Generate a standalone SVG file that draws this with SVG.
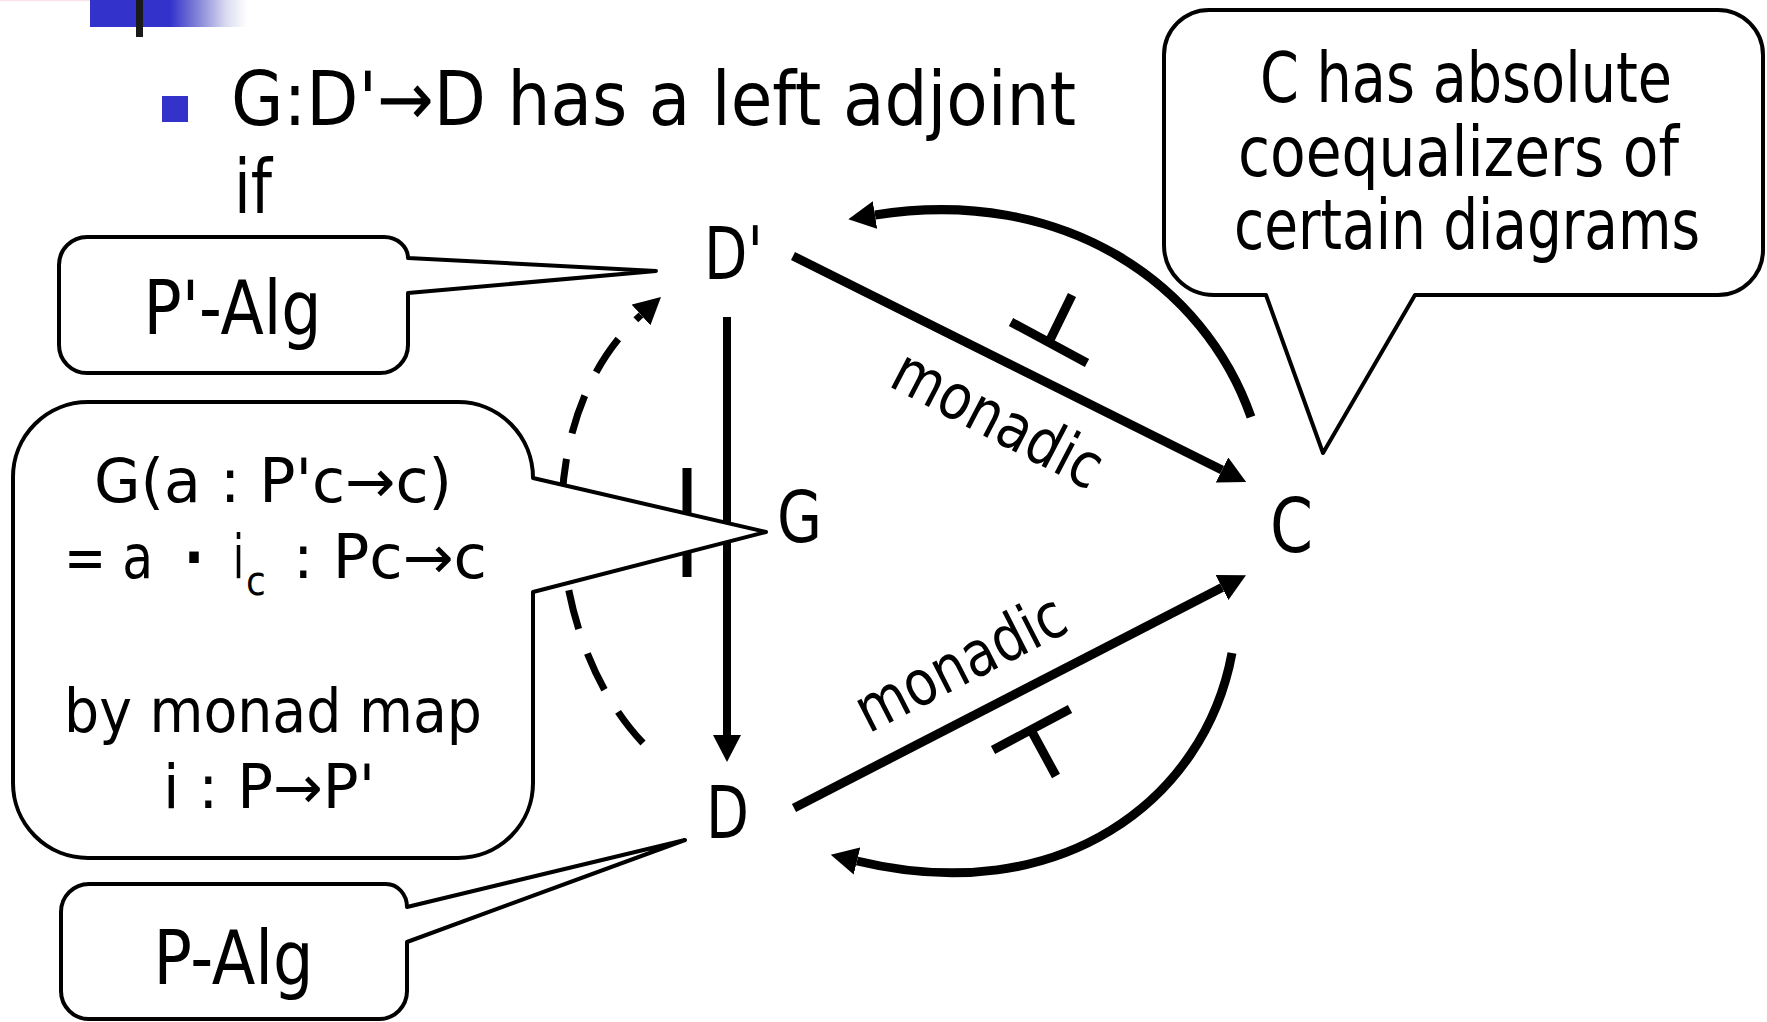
<svg xmlns="http://www.w3.org/2000/svg" width="1767" height="1022" viewBox="0 0 1767 1022">
<defs>
<style>
.t{font-family:'DejaVu Sans Condensed','DejaVu Sans',sans-serif;font-stretch:condensed;fill:#000}
.callout{fill:#fff;stroke:#000;stroke-width:4;stroke-linejoin:round}
.thick{fill:none;stroke:#000;stroke-width:9}
.mid{fill:none;stroke:#000;stroke-width:8}
.dash{fill:none;stroke:#000;stroke-width:7;stroke-dasharray:40 26}
.sym{stroke:#000;stroke-width:9;fill:none}
</style>
<linearGradient id="bar" gradientUnits="userSpaceOnUse" x1="90" y1="0" x2="247" y2="0">
<stop offset="0" stop-color="#3333CC"/>
<stop offset="0.51" stop-color="#3333CC"/>
<stop offset="0.70" stop-color="#8a8ad9"/>
<stop offset="0.87" stop-color="#dcdcf2"/>
<stop offset="1" stop-color="#ffffff"/>
</linearGradient>
<marker id="ah" markerUnits="userSpaceOnUse" markerWidth="28" markerHeight="28" viewBox="0 0 28 28" refX="0" refY="14" orient="auto">
<path d="M0,0 L27,14 L0,28 z" fill="#000"/>
</marker>
</defs>
<rect width="1767" height="1022" fill="#fff"/>
<g id="header">
<rect x="0" y="0" width="90" height="1.2" fill="#fbe3e8"/>
<rect x="90" y="0" width="31" height="1.2" fill="#a58fd6"/>
<rect x="90" y="0" width="157" height="27" fill="url(#bar)"/>
<rect x="136" y="0" width="7" height="37" fill="#1a1a1a"/>
<rect x="162" y="96" width="26" height="26" fill="#3333CC"/>
<text class="t" x="231" y="125" font-size="75" textLength="845" lengthAdjust="spacingAndGlyphs">G:D'→D has a left adjoint</text>
<text class="t" x="234" y="213" font-size="75" textLength="38" lengthAdjust="spacingAndGlyphs">if</text>
</g>
<g id="connectors">
<path id="e-Dp-C" class="thick" d="M793 256 L1222 470" marker-end="url(#ah)"/>
<path id="e-D-C" class="thick" d="M794 808 L1222 587.5" marker-end="url(#ah)"/>
<path id="e-C-Dp" class="thick" d="M1251 417 C1205 285 1065 185 875 215" marker-end="url(#ah)"/>
<path id="e-C-D" class="thick" d="M1232 653 C1205 800 1060 910 857 861" marker-end="url(#ah)"/>
<path id="e-Dp-D" class="mid" d="M727 317 L727 735" marker-end="url(#ah)"/>
<path id="e-D-Dp" class="dash" d="M643 743 C545 640 525 420 641 315" marker-end="url(#ah)"/>
<path id="adj-top" class="sym" d="M1011 322 L1087 363 M1049 342 L1072 295"/>
<path id="adj-bottom" class="sym" d="M993 750 L1070 709 M1031 730 L1056 776"/>
<path id="adj-G" class="sym" d="M687 468 L687 577"/>
<text class="t" font-size="63" text-anchor="middle" textLength="228" lengthAdjust="spacingAndGlyphs" transform="translate(988 438) rotate(27.5)">monadic</text>
<text class="t" font-size="63" text-anchor="middle" textLength="228" lengthAdjust="spacingAndGlyphs" transform="translate(970 682) rotate(-27)">monadic</text>
</g>
<g id="callout-PpAlg">
<path class="callout" d="M87 237 H384 A24 21 0 0 1 408 258 L656 271 L408 293 V345 A28 28 0 0 1 380 373 H87 A28 28 0 0 1 59 345 V265 A28 28 0 0 1 87 237 Z"/>
<text class="t" x="143.5" y="334" font-size="75" textLength="178" lengthAdjust="spacingAndGlyphs">P'-Alg</text>
</g>
<g id="callout-PAlg">
<path class="callout" d="M89 884 H386 A21 23 0 0 1 407 907 L685 840 L407 942 V991 A28 28 0 0 1 379 1019 H89 A28 28 0 0 1 61 991 V912 A28 28 0 0 1 89 884 Z"/>
<text class="t" x="153.5" y="984" font-size="75" textLength="160" lengthAdjust="spacingAndGlyphs">P-Alg</text>
</g>
<g id="callout-G">
<path class="callout" d="M88 402 H458 A75 76 0 0 1 533 478 L766 532 L533 592 V783 A75 75 0 0 1 458 858 H88 A75 75 0 0 1 13 783 V477 A75 75 0 0 1 88 402 Z"/>
<text class="t" x="94" y="502" font-size="60" textLength="358" lengthAdjust="spacingAndGlyphs">G(a : P'c→c)</text>
<text class="t" x="64" y="578" font-size="60" textLength="89" lengthAdjust="spacingAndGlyphs">= a</text>
<text class="t" x="194" y="578" font-size="60" font-weight="bold" text-anchor="middle">·</text>
<text class="t" x="233" y="578" font-size="60" textLength="11" lengthAdjust="spacingAndGlyphs">i</text>
<text class="t" x="246" y="595" font-size="40">c</text>
<text class="t" x="293" y="578" font-size="60" textLength="194" lengthAdjust="spacingAndGlyphs">: Pc→c</text>
<text class="t" x="64" y="732" font-size="60" textLength="418" lengthAdjust="spacingAndGlyphs">by monad map</text>
<text class="t" x="163" y="808" font-size="60" textLength="212" lengthAdjust="spacingAndGlyphs">i : P→P'</text>
</g>
<g id="callout-C">
<path class="callout" d="M1209 10 H1718 A45 45 0 0 1 1763 55 V250 A45 45 0 0 1 1718 295 H1415 L1323 453 L1266 295 H1214 A50 50 0 0 1 1164 245 V55 A45 45 0 0 1 1209 10 Z"/>
<text class="t" x="1260" y="102" font-size="70" textLength="412" lengthAdjust="spacingAndGlyphs">C has absolute</text>
<text class="t" x="1238" y="176" font-size="70" textLength="441" lengthAdjust="spacingAndGlyphs">coequalizers of</text>
<text class="t" x="1234" y="249" font-size="70" textLength="466" lengthAdjust="spacingAndGlyphs">certain diagrams</text>
</g>
<g id="node-Dp"><text class="t" x="704" y="279" font-size="73" textLength="59" lengthAdjust="spacingAndGlyphs">D'</text></g>
<g id="node-G"><text class="t" x="777" y="542" font-size="72" textLength="45" lengthAdjust="spacingAndGlyphs">G</text></g>
<g id="node-D"><text class="t" x="706" y="838" font-size="73" textLength="43" lengthAdjust="spacingAndGlyphs">D</text></g>
<g id="node-C"><text class="t" x="1270" y="552" font-size="75" textLength="43" lengthAdjust="spacingAndGlyphs">C</text></g>
</svg>
